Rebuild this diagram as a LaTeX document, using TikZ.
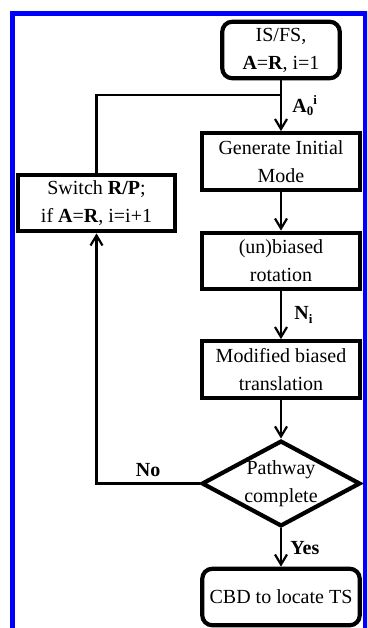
\documentclass[tikz,border=0pt]{standalone}
\usepackage{fontspec}
\setmainfont{Liberation Serif}
\usetikzlibrary{positioning,arrows.meta,shapes.geometric}

\begin{document}
\begin{tikzpicture}[x=1pt,y=-1pt,>={Straight Barb[length=10pt,width=12pt]},
  every node/.style={font=\fontsize{20}{28}\selectfont},
  box/.style={draw,line width=4.2pt,minimum width=157.5pt,minimum height=56.5pt,align=center,inner sep=2pt},
  rbox/.style={box,rounded corners=10pt},
  dec/.style={draw,diamond,aspect=1.85,line width=4.2pt,minimum width=158pt,minimum height=85pt,align=center,inner sep=0pt},
  link/.style={line width=2.2pt},
  lbl/.style={font=\fontsize{20}{24}\selectfont\bfseries}]
\useasboundingbox (0,0) rectangle (367,628);
\begin{scope}
\clip (0,0) rectangle (367,628);
\draw[blue,line width=5pt] (12,13.5) rectangle (365,650);
\end{scope}
\node[rbox,minimum width=117.5pt] (start) at (281,50) {IS/FS,\\\textbf{A}=\textbf{R}, i=1};
\node[box] (gen) at (281,161.5) {Generate Initial\\Mode};
\node[box] (switch) at (96.5,203) {Switch \textbf{R/P};\\if \textbf{A}=\textbf{R}, i=i+1};
\node[box] (rot) at (281,261) {(un)biased\\rotation};
\node[box] (trans) at (281,369.5) {Modified biased\\translation};
\node[dec] (pathway) at (281,483.5) {Pathway\\complete};
\node[rbox] (cbd) at (281,597) {CBD to locate TS};
\coordinate (join) at (281,95);
\draw[link,->] (start) -- node[lbl,right=7pt]{A\raisebox{-3pt}{\fontsize{13}{13}\selectfont 0}\raisebox{8pt}{\fontsize{13}{13}\selectfont i}} (gen);
\draw[link] (switch.north) |- (join);
\draw[link,->] (gen) -- (rot);
\draw[link,->] (rot) -- node[lbl,right=9pt]{N\raisebox{-4pt}{\fontsize{13}{13}\selectfont i}} (trans);
\draw[link,->] (trans) -- (pathway);
\draw[link,->] (pathway.west) -| node[lbl,pos=0.25,above=2pt]{No} (switch.south);
\draw[link,->] (pathway) -- node[lbl,right=5pt]{Yes} (cbd);
\end{tikzpicture}
\end{document}
